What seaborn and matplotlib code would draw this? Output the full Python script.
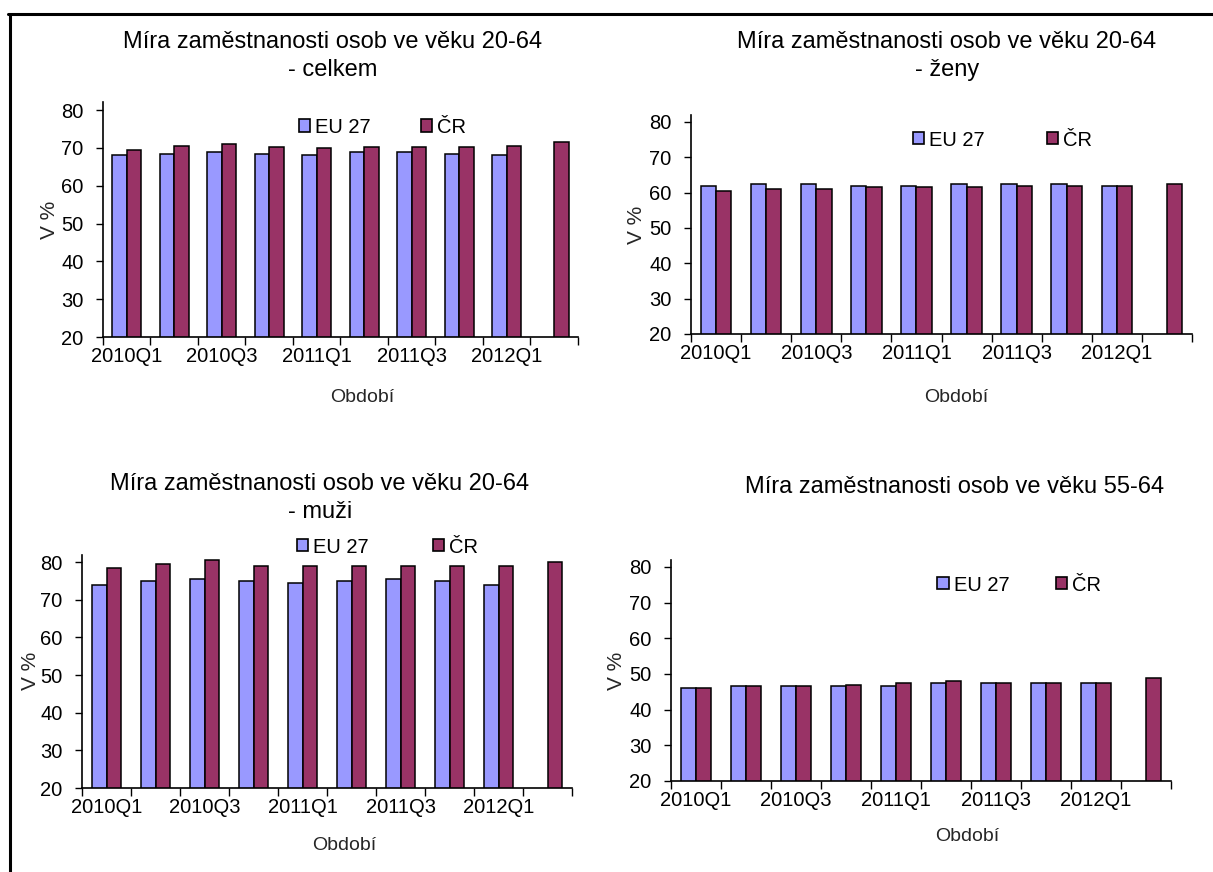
import numpy as np
import pandas as pd
import matplotlib
matplotlib.use('Agg')
import matplotlib.pyplot as plt
from matplotlib.lines import Line2D
from matplotlib.patches import Patch
import seaborn as sns

# data (V %)
quarters = ['2010Q1', '2010Q2', '2010Q3', '2010Q4', '2011Q1',
            '2011Q2', '2011Q3', '2011Q4', '2012Q1', '2012Q2']
tick_labels = ['2010Q1', '2010Q3', '2011Q1', '2011Q3', '2012Q1']
series = ['EU 27', 'ČR']

celkem_eu = [68, 68.5, 69, 68.5, 68, 69, 69, 68.5, 68, np.nan]
celkem_cr = [69.5, 70.5, 71, 70.2, 70, 70.2, 70.2, 70.2, 70.5, 71.5]

zeny_eu = [62, 62.5, 62.5, 62, 62, 62.5, 62.5, 62.5, 62, np.nan]
zeny_cr = [60.5, 61, 61, 61.5, 61.5, 61.5, 62, 62, 62, 62.5]

muzi_eu = [74, 75, 75.5, 75, 74.5, 75, 75.5, 75, 74, np.nan]
muzi_cr = [78.5, 79.5, 80.5, 79, 79, 79, 79, 79, 79, 80]

starsi_eu = [46, 46.5, 46.5, 46.5, 46.5, 47.5, 47.5, 47.5, 47.5, np.nan]
starsi_cr = [46, 46.5, 46.5, 47, 47.5, 48, 47.5, 47.5, 47.5, 49]

barvy = {'EU 27': '#9999FF', 'ČR': '#993366'}

sns.set_style('ticks')
plt.rcParams['font.family'] = ['Liberation Sans', 'DejaVu Sans']
plt.rcParams['text.color'] = 'black'
plt.rcParams['xtick.color'] = 'black'
plt.rcParams['ytick.color'] = 'black'

W, H = 1213, 872
fig = plt.figure(figsize=(W / 100, H / 100), dpi=100)

# (rect, eu, cr, title, title_xy_px, legend_xy, colspacing, xlabel_xy, ylabel_xy)
panely = [
    ([0.0849, 0.6135, 0.3916, 0.2690], celkem_eu, celkem_cr,
     'Míra zaměstnanosti osob ve věku 20-64\n- celkem', (333, 56),
     (0.589, 0.895), 2.5, (0.545, -0.256), (-0.112, 0.5)),
    ([0.5697, 0.6170, 0.4130, 0.2513], zeny_eu, zeny_cr,
     'Míra zaměstnanosti osob ve věku 20-64\n- ženy', (947, 56),
     (0.621, 0.885), 3.1, (0.529, -0.288), (-0.108, 0.5)),
    ([0.0676, 0.0963, 0.4040, 0.2678], muzi_eu, muzi_cr,
     'Míra zaměstnanosti osob ve věku 20-64\n- muži', (320, 498),
     (0.624, 1.032), 3.2, (0.535, -0.244), (-0.105, 0.5)),
    ([0.5532, 0.1044, 0.4122, 0.2536], starsi_eu, starsi_cr,
     'Míra zaměstnanosti osob ve věku 55-64', (955, 487),
     (0.696, 0.886), 2.3, (0.592, -0.253), (-0.11, 0.5)),
]

for rect, eu, cr, titulek, txy, lxy, cs, xlxy, ylxy in panely:
    ax = fig.add_axes(rect)
    df = pd.DataFrame({
        'obdobi': quarters * 2,
        'zeme': ['EU 27'] * len(quarters) + ['ČR'] * len(quarters),
        'hodnota': list(eu) + list(cr),
    })
    sns.barplot(data=df, x='obdobi', y='hodnota', hue='zeme',
                order=quarters, hue_order=series, palette=barvy,
                saturation=1, width=0.61, edgecolor='black', linewidth=1.1,
                errorbar=None, legend=False, ax=ax)

    ax.set_xlim(-0.5, len(quarters) - 0.5)
    ax.set_ylim(20, 82)
    ax.set_yticks(range(20, 81, 10))
    ax.set_xticks(range(0, len(quarters), 2))
    ax.set_xticklabels(tick_labels)
    ax.set_xticks(np.arange(-0.5, len(quarters), 1), minor=True)
    ax.tick_params(axis='x', which='major', length=0, pad=7, labelsize=14.5)
    ax.tick_params(axis='x', which='minor', length=6, width=1,
                   direction='out', bottom=True)
    ax.tick_params(axis='y', length=5, width=1, direction='out',
                   pad=9, labelsize=14.5)
    sns.despine(ax=ax)
    for s in ['left', 'bottom']:
        ax.spines[s].set_color('black')
        ax.spines[s].set_linewidth(1.2)

    ax.set_xlabel('Období', fontsize=14)
    ax.xaxis.set_label_coords(*xlxy)
    ax.xaxis.label.set_va('center')
    ax.set_ylabel('V %', fontsize=15)
    ax.yaxis.set_label_coords(*ylxy)
    ax.yaxis.label.set_va('center')

    handles = [Patch(facecolor=barvy[s], edgecolor='black', linewidth=1.2,
                     label=s) for s in series]
    ax.legend(handles=handles, loc='center', bbox_to_anchor=lxy, ncol=2,
              frameon=False, fontsize=14.5, handlelength=0.55,
              handleheight=0.55, handletextpad=0.25, columnspacing=cs,
              borderaxespad=0, borderpad=0)

    fig.text(txy[0] / W, 1 - txy[1] / H, titulek, ha='center', va='center',
             fontsize=17, linespacing=1.4)

# frame lines of the original page (top and left only)
fig.add_artist(Line2D([8 / W, 1], [1 - 14 / H, 1 - 14 / H],
                      color='black', lw=2.2))
fig.add_artist(Line2D([9.5 / W, 9.5 / W], [1 - 14 / H, 0],
                      color='black', lw=2.2))

fig.savefig('out.png', dpi=100)
